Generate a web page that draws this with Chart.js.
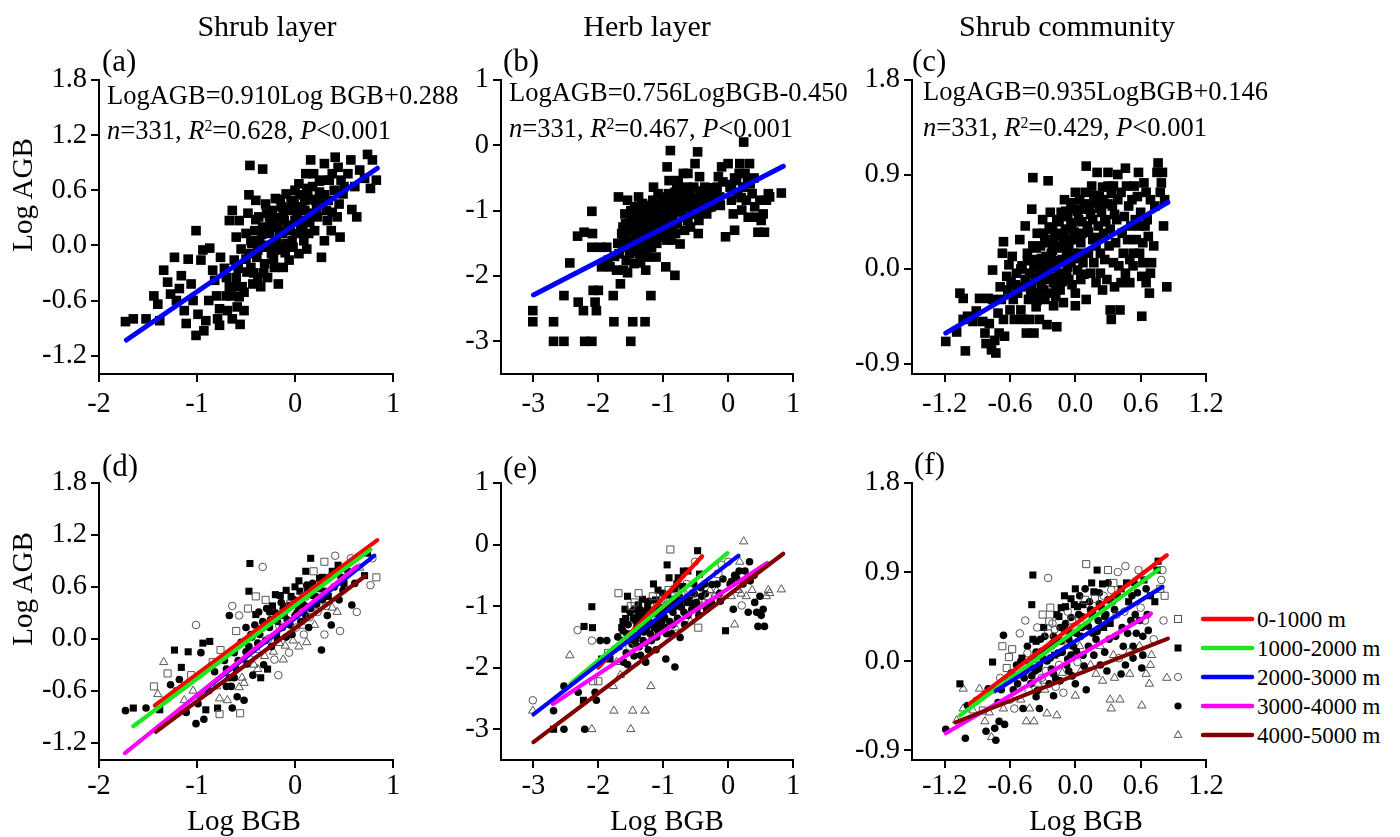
<!DOCTYPE html>
<html>
<head>
<meta charset="utf-8">
<script src="https://cdn.jsdelivr.net/npm/chart.js@4.4.1/dist/chart.umd.min.js"></script>
<style>
  html, body { margin: 0; padding: 0; background: #fff; }
  #fig { position: relative; width: 1400px; height: 837px; overflow: hidden;
         font-family: "Liberation Serif", "Times New Roman", serif; color: #000; }
  #fig canvas { position: absolute; }
  #fig svg { position: absolute; }
  .txt { position: absolute; white-space: nowrap; line-height: 1; }
  .txt sup { font-size: 0.6em; position: relative; top: -0.5em; vertical-align: baseline; }
</style>
</head>
<body>
<div id="fig">
  <canvas id="pa"></canvas>
  <canvas id="pb"></canvas>
  <canvas id="pc"></canvas>
  <canvas id="pd"></canvas>
  <canvas id="pe"></canvas>
  <canvas id="pf"></canvas>
</div>
<script>
// ---- data ----
const panelTitles = ['Shrub layer', 'Herb layer', 'Shrub community'];
const panelTags = ['(a)', '(b)', '(c)', '(d)', '(e)', '(f)'];
const fitEquations = ['LogAGB=0.910Log BGB+0.288', 'LogAGB=0.756LogBGB-0.450', 'LogAGB=0.935LogBGB+0.146'];
const fitN = [331, 331, 331];
const fitR2 = ['0.628', '0.467', '0.429'];
const fitP = ['0.001', '0.001', '0.001'];

const zoneLabels = ['0-1000 m', '1000-2000 m', '2000-3000 m', '3000-4000 m', '4000-5000 m'];

const shrubXTicks = [-2, -1, 0, 1];
const shrubYTicks = [-1.2, -0.6, 0, 0.6, 1.2, 1.8];
const herbXTicks = [-3, -2, -1, 0, 1];
const herbYTicks = [-3, -2, -1, 0, 1];
const commXTicks = [-1.2, -0.6, 0, 0.6, 1.2];
const commYTicks = [-0.9, 0, 0.9, 1.8];

// [Log BGB, Log AGB, altitude zone index]
const shrubPts = [
  [-1.73,-0.83,3],[-1.65,-0.80,1],[-1.52,-0.80,3],[-1.38,-0.82,1],[-1.44,-0.55,0],[-1.40,-0.64,4],[-1.34,-0.27,4],[-1.30,-0.40,0],
  [-1.23,-0.13,1],[-1.27,-0.53,3],[-1.21,-0.60,3],[-1.16,-0.33,1],[-1.18,-0.47,3],[-1.13,-0.71,4],[-1.11,-0.85,3],[-1.09,-0.15,1],
  [-1.06,-0.42,0],[-1.04,-0.60,4],[-1.01,0.16,2],[-1.01,-0.98,3],[-0.99,-0.75,3],[-0.96,-0.16,3],[-0.94,-0.05,1],[-0.93,-0.93,3],
  [-0.91,-0.82,1],[-0.88,-0.60,3],[-0.87,-0.03,1],[-0.84,-0.27,0],[-0.82,-0.38,3],[-0.79,-0.80,1],[-0.77,-0.87,0],[-0.77,-0.69,4],
  [-0.76,-0.13,0],[-0.72,-0.25,3],[-0.70,-0.35,3],[-0.69,-0.71,4],[-0.67,-0.45,3],[-0.67,0.27,3],[-0.65,-0.55,3],[-0.64,0.38,2],
  [-0.62,-0.16,3],[-0.60,0.09,0],[-0.60,-0.35,3],[-0.59,-0.67,3],[-0.57,0.27,2],[-0.57,-0.56,4],[-0.55,-0.04,3],[-0.54,-0.45,4],
  [-0.52,-0.71,3],[-0.52,-0.51,4],[-0.50,0.13,3],[-0.49,-0.29,3],[-0.48,0.35,0],[-0.47,-0.09,3],[-0.47,0.55,1],[-0.46,0.87,1],
  [-0.45,-0.24,2],[-0.44,0.02,3],[-0.43,-0.42,3],[-0.41,0.16,3],[-0.40,0.49,0],[-0.39,-0.13,4],[-0.38,-0.35,4],[-0.37,0.31,3],
  [-0.36,0.05,3],[-0.35,-0.45,1],[-0.33,0.83,2],[-0.33,0.20,3],[-0.31,-0.20,4],[-0.30,0.45,0],[-0.30,-0.02,3],[-0.28,-0.35,1],
  [-0.26,0.13,3],[-0.26,0.31,3],[-0.24,-0.09,3],[-0.23,0.38,1],[-0.21,-0.24,2],[-0.20,0.51,1],[-0.19,0.05,3],[-0.18,0.20,3],
  [-0.17,-0.42,2],[-0.16,-0.05,4],[-0.14,0.42,3],[-0.13,0.13,3],[-0.12,-0.24,4],[-0.11,0.27,1],[-0.09,0.56,1],[-0.09,0.02,3],
  [-0.07,0.38,3],[-0.06,-0.16,2],[-0.05,0.16,3],[-0.04,0.49,1],[-0.02,-0.02,4],[0.00,0.27,3],[0.00,0.60,1],[0.01,0.13,2],
  [0.03,0.38,3],[0.04,-0.09,4],[0.04,0.67,1],[0.06,0.20,3],[0.07,0.42,3],[0.09,0.05,2],[0.10,0.49,0],[0.11,0.27,3],
  [0.11,0.78,1],[0.12,-0.04,4],[0.13,0.56,3],[0.14,0.13,3],[0.16,0.35,3],[0.16,0.93,1],[0.18,0.64,3],[0.19,0.78,0],
  [0.20,0.16,4],[0.21,0.49,3],[0.23,0.31,2],[0.25,0.58,3],[0.27,-0.13,3],[0.28,0.71,1],[0.28,0.45,3],[0.30,0.05,2],
  [0.30,0.89,0],[0.33,0.27,3],[0.34,0.49,1],[0.35,0.71,3],[0.37,0.16,3],[0.38,0.36,4],[0.38,0.78,1],[0.40,0.60,3],
  [0.41,0.96,2],[0.43,0.31,4],[0.44,0.85,1],[0.45,0.45,3],[0.46,0.09,2],[0.47,0.71,3],[0.49,0.56,3],[0.50,0.64,1],
  [0.54,0.78,3],[0.57,0.93,2],[0.58,0.39,3],[0.61,0.64,3],[0.63,0.31,2],[0.66,0.82,4],[0.71,0.73,1],[0.74,0.99,1],
  [0.77,0.62,2],[0.79,0.93,2],[0.83,0.71,0],
  [-0.50,-0.15,3],[-0.45,0.05,3],[-0.42,-0.30,4],[-0.40,0.28,1],[-0.38,-0.05,3],[-0.34,0.12,3],[-0.32,-0.30,3],[-0.29,0.35,3],
  [-0.27,0.00,2],[-0.25,0.22,3],[-0.22,-0.15,4],[-0.20,0.30,3],[-0.18,0.00,3],[-0.16,0.15,2],[-0.15,0.50,1],[-0.12,0.35,3],
  [-0.10,-0.08,4],[-0.08,0.22,3],[-0.05,0.40,0],[-0.03,0.05,3],[-0.01,0.45,3],[0.02,0.30,3],[0.05,0.55,1],[0.08,0.15,4],
  [0.10,0.38,3],[0.12,0.62,3],[0.15,0.25,2],[0.18,0.50,3],[0.22,0.40,3],[0.25,0.70,1],[0.30,0.55,3],[0.32,0.38,2],
  [-0.62,-0.45,3],[-0.58,-0.25,3],[-0.70,-0.55,3],[-0.80,-0.55,4],[-0.64,-0.80,3],[-0.56,-0.86,0]
];

const herbPts = [
  [-3.01,-2.53,2],[-3.01,-2.70,4],[-2.69,-2.70,3],[-2.69,-3.00,1],[-2.53,-3.00,3],[-2.53,-2.30,3],[-2.44,-1.80,4],[-2.32,-1.39,2],
  [-2.31,-2.40,3],[-2.23,-2.53,1],[-2.22,-1.33,1],[-2.21,-3.00,3],[-2.10,-3.00,4],[-2.10,-1.01,1],[-2.10,-1.56,2],[-2.09,-1.35,1],
  [-2.08,-2.22,0],[-2.05,-2.40,3],[-2.03,-2.53,3],[-2.00,-2.22,0],[-1.97,-1.56,3],[-1.95,-1.86,1],[-1.87,-1.56,3],[-1.85,-1.76,0],
  [-1.82,-1.86,1],[-1.77,-2.30,4],[-1.76,-2.70,4],[-1.72,-1.91,4],[-1.69,-0.79,0],[-1.68,-1.66,3],[-1.66,-2.12,4],[-1.64,-1.35,1],
  [-1.63,-1.56,3],[-1.62,-1.25,1],[-1.61,-1.91,3],[-1.59,-1.05,1],[-1.57,-1.76,3],[-1.56,-1.45,3],[-1.55,-0.84,1],[-1.54,-1.30,3],
  [-1.52,-1.66,2],[-1.51,-1.10,3],[-1.50,-3.00,4],[-1.49,-1.45,3],[-1.47,-2.70,4],[-1.46,-1.20,3],[-1.45,-1.81,3],[-1.44,-0.94,0],
  [-1.43,-1.56,3],[-1.41,-1.35,3],[-1.39,-1.15,3],[-1.38,-0.79,0],[-1.37,-1.66,3],[-1.36,-1.05,3],[-1.35,-1.35,3],[-1.33,-1.25,1],
  [-1.32,-0.89,1],[-1.31,-1.56,3],[-1.30,-1.10,3],[-1.28,-2.70,4],[-1.27,-1.91,3],[-1.26,-1.35,3],[-1.24,-0.99,1],[-1.23,-1.71,3],
  [-1.22,-1.25,3],[-1.21,-1.15,3],[-1.19,-2.30,4],[-1.18,-1.56,3],[-1.16,-0.84,0],[-1.15,-0.64,1],[-1.14,-1.35,3],[-1.13,-1.05,3],
  [-1.11,-1.71,3],[-1.10,-0.94,2],[-1.09,-1.25,3],[-1.08,-0.74,1],[-1.06,-1.15,3],[-1.05,-1.35,3],[-1.03,-0.94,0],[-1.01,-0.79,1],
  [-1.00,-1.10,3],[-0.97,-1.35,3],[-0.96,-1.86,3],[-0.95,-0.99,3],[-0.94,-0.33,1],[-0.92,-0.74,0],[-0.91,-0.54,1],[-0.90,-1.25,3],
  [-0.89,-0.08,0],[-0.87,-1.45,3],[-0.86,-0.84,2],[-0.85,-1.10,3],[-0.84,-0.89,3],[-0.82,-1.99,3],[-0.81,-1.35,4],[-0.79,-0.64,1],
  [-0.77,-0.54,1],[-0.75,-0.94,3],[-0.74,-1.51,3],[-0.72,-0.79,0],[-0.69,-0.43,1],[-0.68,-1.10,3],[-0.67,-1.30,3],[-0.64,-0.64,2],
  [-0.63,-0.94,3],[-0.62,-0.43,1],[-0.59,-0.84,3],[-0.58,-1.25,4],[-0.56,-1.05,3],[-0.55,-0.79,2],[-0.53,-0.64,3],[-0.51,-0.28,2],
  [-0.49,-0.94,3],[-0.47,-0.10,1],[-0.46,-1.35,0],[-0.45,-1.15,3],[-0.44,-0.48,1],[-0.41,-0.84,3],[-0.38,-0.94,4],[-0.36,-0.64,3],
  [-0.33,-1.05,3],[-0.31,-0.84,2],[-0.28,-0.74,4],[-0.26,-0.94,3],[-0.21,-0.84,4],[-0.17,-0.64,3],[-0.15,-0.48,0],[-0.13,-0.79,3],
  [-0.10,-0.33,2],[-0.08,-0.56,3],[-0.04,-1.40,1],[0.00,-0.28,2],[0.03,-0.64,3],[0.05,-0.84,4],[0.08,-1.05,3],[0.10,-1.30,4],
  [0.13,-0.54,3],[0.15,-0.74,4],[0.17,-0.43,3],[0.18,-0.28,4],[0.21,-0.99,2],[0.23,-0.64,3],[0.24,0.05,4],[0.26,-0.43,3],
  [0.28,-0.84,4],[0.31,-1.10,3],[0.33,-0.28,3],[0.34,-0.59,3],[0.37,-0.74,4],[0.41,-0.94,3],[0.44,-1.10,3],[0.46,-1.33,3],
  [0.49,-0.84,3],[0.51,-1.15,3],[0.54,-1.05,3],[0.56,-1.33,3],[0.59,-0.84,4],[0.62,-0.74,4],[0.64,-0.79,4],[0.82,-0.73,4],
  [-1.70,-1.50,3],[-1.75,-1.70,3],[-1.62,-1.40,3],[-1.58,-1.20,1],[-1.55,-1.95,3],[-1.50,-1.00,0],[-1.48,-1.62,3],[-1.45,-1.05,3],
  [-1.42,-1.25,3],[-1.40,-1.48,3],[-1.38,-0.98,1],[-1.35,-1.80,3],[-1.34,-1.18,3],[-1.30,-1.42,3],[-1.28,-1.60,3],[-1.25,-1.08,1],
  [-1.22,-0.92,3],[-1.20,-1.45,3],[-1.18,-1.30,3],[-1.15,-1.12,3],[-1.12,-0.90,1],[-1.10,-1.50,3],[-1.08,-1.40,3],[-1.05,-1.02,3],
  [-1.02,-1.25,3],[-1.00,-0.88,0],[-0.98,-1.18,3],[-0.95,-1.45,3],[-0.93,-0.82,1],[-0.90,-1.05,3],[-0.88,-0.95,3],[-0.85,-1.30,3],
  [-0.82,-0.72,1],[-0.80,-1.00,3],[-0.78,-1.20,3],[-0.75,-0.85,3],[-0.72,-1.02,3],[-0.70,-0.68,1],[-0.66,-0.90,3],[-0.62,-1.15,3],
  [-0.60,-0.72,2],[-0.57,-0.95,3],[-0.52,-0.80,3],[-0.48,-1.05,3],[-0.42,-0.70,3],[-0.40,-1.00,4],[-0.35,-0.80,3],[-0.30,-0.95,3],
  [-0.25,-0.65,3],[-0.18,-0.75,4],[-0.12,-0.92,3],[0.05,-0.60,3],[0.10,-0.50,3],[0.20,-0.80,4],[0.30,-0.55,3],[0.40,-0.50,3]
];

const commPts = [
  [-1.19,-0.69,3],[-1.09,-0.60,4],[-1.06,-0.23,1],[-1.03,-0.28,4],[-1.01,-0.78,3],[-1.03,-0.48,4],[-0.99,-0.45,3],[-0.94,-0.50,4],
  [-0.91,-0.40,3],[-0.88,-0.28,4],[-0.85,-0.50,0],[-0.83,-0.61,4],[-0.82,-0.71,3],[-0.80,-0.28,3],[-0.79,-0.52,4],[-0.77,-0.77,4],
  [-0.76,-0.01,1],[-0.76,-0.29,1],[-0.74,-0.68,3],[-0.73,-0.80,3],[-0.71,-0.42,3],[-0.70,-0.61,3],[-0.69,-0.17,2],[-0.68,-0.29,3],
  [-0.67,0.15,0],[-0.66,0.26,3],[-0.66,-0.48,4],[-0.65,-0.64,3],[-0.63,-0.07,0],[-0.62,-0.20,3],[-0.61,0.04,0],[-0.60,-0.39,2],
  [-0.59,-0.12,3],[-0.57,-0.29,3],[-0.56,-0.48,2],[-0.54,-0.04,3],[-0.53,-0.23,3],[-0.51,0.28,2],[-0.50,-0.39,4],[-0.49,0.03,1],
  [-0.48,-0.48,3],[-0.47,-0.17,3],[-0.46,0.41,2],[-0.45,-0.61,4],[-0.44,0.15,3],[-0.43,-0.29,2],[-0.42,-0.04,3],[-0.42,-0.48,4],
  [-0.41,-0.23,3],[-0.40,0.57,1],[-0.39,0.22,1],[-0.39,0.87,1],[-0.38,-0.61,4],[-0.37,-0.10,3],[-0.36,-0.36,3],[-0.36,0.09,3],
  [-0.35,0.34,2],[-0.34,-0.23,4],[-0.33,-0.04,3],[-0.33,-0.48,3],[-0.32,0.22,3],[-0.31,-0.17,2],[-0.30,0.03,3],[-0.30,0.47,0],
  [-0.29,0.34,1],[-0.28,-0.29,4],[-0.27,0.12,3],[-0.27,-0.10,2],[-0.26,-0.53,4],[-0.25,0.84,2],[-0.25,0.28,0],[-0.24,-0.23,3],
  [-0.23,0.54,0],[-0.23,0.03,3],[-0.22,0.15,3],[-0.21,0.38,2],[-0.20,-0.13,3],[-0.20,0.25,3],[-0.19,0.06,1],[-0.18,-0.26,2],
  [-0.17,0.47,1],[-0.17,-0.55,4],[-0.16,0.22,3],[-0.15,-0.04,2],[-0.14,0.34,3],[-0.14,-0.20,3],[-0.13,0.54,1],[-0.12,0.09,3],
  [-0.11,0.25,2],[-0.11,-0.32,2],[-0.10,0.66,1],[-0.09,0.38,3],[-0.08,-0.04,3],[-0.08,0.15,4],[-0.07,0.50,2],[-0.06,-0.10,3],
  [-0.05,0.28,3],[-0.04,0.63,1],[-0.04,0.06,3],[-0.03,0.41,0],[-0.02,0.15,3],[-0.01,0.57,1],[0.00,-0.23,3],[0.00,0.73,1],
  [0.01,0.28,3],[0.02,-0.01,2],[0.03,0.47,3],[0.04,0.15,4],[0.04,0.66,3],[0.05,-0.10,4],[0.06,0.34,3],[0.07,0.57,1],
  [0.07,0.06,3],[0.09,0.73,3],[0.10,0.98,0],[0.10,-0.29,3],[0.11,0.41,2],[0.12,0.15,3],[0.13,0.60,3],[0.14,-0.04,4],
  [0.15,0.79,1],[0.16,0.28,3],[0.16,0.47,1],[0.17,0.06,3],[0.18,0.63,0],[0.19,-0.13,4],[0.19,0.22,3],[0.20,0.92,1],
  [0.21,0.41,3],[0.22,0.69,3],[0.23,-0.04,3],[0.23,0.15,4],[0.24,0.54,3],[0.25,-0.20,4],[0.26,0.34,1],[0.26,0.66,2],
  [0.27,0.09,3],[0.28,0.47,3],[0.29,-0.10,3],[0.30,0.79,3],[0.30,0.92,0],[0.31,0.22,3],[0.32,-0.39,4],[0.32,0.38,1],
  [0.33,-0.48,4],[0.34,0.60,3],[0.35,0.06,4],[0.35,0.79,0],[0.36,-0.17,4],[0.37,0.25,3],[0.38,0.47,2],[0.39,0.90,2],
  [0.39,0.66,3],[0.40,0.03,2],[0.41,-0.39,4],[0.42,-0.13,3],[0.42,0.73,1],[0.43,0.34,3],[0.44,0.15,3],[0.45,0.50,2],
  [0.46,0.96,2],[0.46,-0.04,3],[0.47,0.79,1],[0.48,0.28,3],[0.49,0.60,1],[0.50,0.09,2],[0.50,-0.13,4],[0.51,0.41,3],
  [0.52,0.66,3],[0.53,0.15,3],[0.53,0.03,3],[0.54,0.79,3],[0.55,0.47,3],[0.56,0.28,3],[0.57,0.69,3],[0.58,0.92,2],
  [0.59,0.41,3],[0.59,0.15,4],[0.60,0.54,2],[0.61,-0.45,4],[0.61,-0.07,3],[0.62,0.25,3],[0.62,0.06,3],[0.63,0.82,1],
  [0.64,0.41,2],[0.65,0.73,3],[0.65,-0.13,4],[0.66,0.47,3],[0.67,0.31,3],[0.68,-0.23,4],[0.69,-0.04,4],[0.69,0.66,1],
  [0.70,0.06,4],[0.72,0.22,2],[0.73,0.60,1],[0.75,0.92,1],[0.76,1.01,1],[0.78,0.73,0],[0.79,0.82,2],[0.80,0.92,2],
  [0.81,0.41,2],[0.82,0.66,0],[0.84,-0.17,4],
  [-0.50,0.00,3],[-0.46,-0.10,3],[-0.44,0.08,2],[-0.40,-0.15,3],[-0.38,0.02,3],[-0.36,0.20,1],[-0.34,-0.08,3],[-0.31,0.10,3],
  [-0.29,-0.20,4],[-0.28,0.25,3],[-0.26,0.00,3],[-0.24,0.40,0],[-0.22,-0.08,3],[-0.21,0.18,3],[-0.19,0.32,2],[-0.18,-0.18,3],
  [-0.16,0.08,3],[-0.15,0.45,1],[-0.13,0.20,3],[-0.12,-0.12,4],[-0.10,0.32,3],[-0.09,0.55,1],[-0.07,0.02,3],[-0.06,0.22,3],
  [-0.04,0.44,3],[-0.03,-0.15,3],[-0.01,0.35,2],[0.01,0.10,3],[0.02,0.55,1],[0.05,0.25,3],[0.06,0.45,3],[0.08,-0.05,3],
  [0.09,0.62,0],[0.12,0.35,3],[0.14,0.52,3],[0.17,0.70,1],[0.20,0.30,3],[0.22,0.58,3],[0.25,0.78,1],[0.27,0.45,3],
  [0.30,0.62,3],[0.33,0.72,2],[0.36,0.52,3],[-0.55,-0.15,3],[-0.58,0.12,0],[-0.35,-0.30,3],[-0.20,-0.35,3],[0.00,-0.35,4]
];

// fitted lines as drawn: [start, end] in (Log BGB, Log AGB)
const shrubFit = [[-1.72, -1.03], [0.84, 0.84]];
const herbFit = [[-3.0, -2.29], [0.85, -0.32]];
const commFit = [[-1.19, -0.61], [0.85, 0.635]];

const shrubZoneFits = [
  [[-1.43, -0.77], [0.84, 1.14]],
  [[-1.65, -1.01], [0.77, 1.03]],
  [[-1.00, -0.66], [0.81, 0.96]],
  [[-1.735, -1.32], [0.636, 0.84]],
  [[-1.42, -1.075], [0.71, 0.72]]
];
const herbZoneFits = [
  [[-2.0, -2.0], [-0.4, -0.19]],
  [[-2.43, -2.26], [-0.01, -0.14]],
  [[-3.0, -2.76], [0.16, -0.18]],
  [[-2.7, -2.59], [0.6, -0.30]],
  [[-3.0, -3.21], [0.85, -0.15]]
];
const commZoneFits = [
  [[-0.97, -0.43], [0.84, 1.07]],
  [[-1.06, -0.55], [0.765, 0.926]],
  [[-0.73, -0.30], [0.80, 0.75]],
  [[-1.19, -0.73], [0.695, 0.48]],
  [[-1.10, -0.62], [0.85, 0.227]]
];

// ---- styles ----
const zoneColors = ['#ff0000', '#1fe61f', '#0000ff', '#ff00ff', '#800000'];
const zoneMarks = [
  { pointStyle: 'rect', pointRadius: 5, pointBackgroundColor: 'rgba(0,0,0,0)', pointBorderColor: '#555', pointBorderWidth: 1 },
  { pointStyle: 'rect', pointRadius: 5, pointBackgroundColor: '#000', pointBorderColor: '#000', pointBorderWidth: 0 },
  { pointStyle: 'circle', pointRadius: 3.8, pointBackgroundColor: 'rgba(0,0,0,0)', pointBorderColor: '#555', pointBorderWidth: 1 },
  { pointStyle: 'circle', pointRadius: 3.8, pointBackgroundColor: '#000', pointBorderColor: '#000', pointBorderWidth: 0 },
  { pointStyle: 'triangle', pointRadius: 4.8, pointBackgroundColor: 'rgba(0,0,0,0)', pointBorderColor: '#555', pointBorderWidth: 1 }
];
const FONT = '"Liberation Serif", "Times New Roman", serif';
Chart.defaults.font.family = FONT;

const fig = document.getElementById('fig');

function addText(html, x, base, size, center) {
  const d = document.createElement('div');
  d.className = 'txt';
  d.innerHTML = html;
  d.style.fontSize = size + 'px';
  d.style.left = x + 'px';
  d.style.top = (base - 0.8375 * size) + 'px';
  if (center) d.style.transform = 'translateX(-50%)';
  fig.appendChild(d);
  return d;
}

function addYTitle(text, cx, cy, size) {
  const d = addText(text, cx, 0, size);
  d.style.top = cy + 'px';
  d.style.transform = 'translate(-50%, -50%) rotate(-90deg)';
}

function xy(p) { return { x: p[0], y: p[1] }; }

function fitLine(seg, color, width, order) {
  return { data: seg.map(xy), showLine: true, borderColor: color, borderWidth: width,
           borderCapStyle: 'round', pointRadius: 0, pointHoverRadius: 0, order: order };
}

function axis(range, ticks, digits, pad, fit) {
  return {
    type: 'linear', min: range[0], max: range[1],
    afterBuildTicks: s => { s.ticks = ticks.map(v => ({ value: v })); },
    afterFit: fit,
    grid: { drawOnChartArea: false, drawTicks: true, tickLength: 8, color: '#000', lineWidth: 2 },
    border: { display: true, color: '#000', width: 2 },
    ticks: { color: '#000', padding: pad, autoSkip: false, maxRotation: 0,
             font: { family: FONT, size: 28.5 }, callback: v => Number(v).toFixed(digits) }
  };
}

function makePanel(id, box, area, xr, yr, xt, yt, dx, dy, xPad, datasets) {
  const cv = document.getElementById(id);
  cv.width = box.w; cv.height = box.h;
  cv.style.left = box.x + 'px'; cv.style.top = box.y + 'px';
  cv.style.width = box.w + 'px'; cv.style.height = box.h + 'px';
  new Chart(cv, {
    type: 'scatter',
    data: { datasets: datasets },
    options: {
      responsive: false, animation: false, devicePixelRatio: 1, events: [],
      layout: { padding: { left: 0, top: area.t - box.y, right: box.x + box.w - area.r, bottom: 0 } },
      plugins: { legend: { display: false }, tooltip: { enabled: false } },
      scales: {
        x: axis(xr, xt, dx, xPad, s => { s.height = box.y + box.h - area.b; }),
        y: axis(yr, yt, dy, 4, s => { s.width = area.l - box.x; })
      }
    }
  });
}

function topSets(pts, fit) {
  return [
    fitLine(fit, '#0000ff', 5, 0),
    { data: pts.map(xy), pointStyle: 'rect', pointRadius: 6.8, pointHoverRadius: 6.8,
      pointBackgroundColor: '#000', pointBorderWidth: 0, order: 1 }
  ];
}

function zoneSets(pts, fits) {
  const lines = fits.map((seg, g) => fitLine(seg, zoneColors[g], 4.2, 4 - g));
  const marks = zoneLabels.map((_, g) => Object.assign({
    data: pts.filter(p => p[2] === g).map(xy), order: 10 + g
  }, zoneMarks[g]));
  return lines.concat(marks);
}

// ---- panels ----
const shrubX = [-2, 1], shrubY = [-1.4, 1.8];
const herbX = [-3.5, 1], herbY = [-3.5, 1];
const commX = [-1.5, 1.2], commY = [-1.0, 1.8];

makePanel('pa', { x: 0, y: 40, w: 460, h: 390 }, { l: 99, t: 80, r: 393, b: 374 },
  shrubX, shrubY, shrubXTicks, shrubYTicks, 0, 1, 5, topSets(shrubPts, shrubFit));
makePanel('pb', { x: 440, y: 40, w: 420, h: 390 }, { l: 501, t: 80, r: 793, b: 374 },
  herbX, herbY, herbXTicks, herbYTicks, 0, 0, 5, topSets(herbPts, herbFit));
makePanel('pc', { x: 850, y: 40, w: 400, h: 390 }, { l: 912, t: 80, r: 1206, b: 374 },
  commX, commY, commXTicks, commYTicks, 1, 1, 5, topSets(commPts, commFit));
makePanel('pd', { x: 0, y: 440, w: 460, h: 380 }, { l: 99, t: 483, r: 393, b: 760 },
  shrubX, shrubY, shrubXTicks, shrubYTicks, 0, 1, 1, zoneSets(shrubPts, shrubZoneFits));
makePanel('pe', { x: 440, y: 440, w: 420, h: 380 }, { l: 501, t: 483, r: 793, b: 760 },
  herbX, herbY, herbXTicks, herbYTicks, 0, 0, 1, zoneSets(herbPts, herbZoneFits));
makePanel('pf', { x: 850, y: 440, w: 400, h: 380 }, { l: 912, t: 483, r: 1206, b: 760 },
  commX, commY, commXTicks, commYTicks, 1, 1, 1, zoneSets(commPts, commZoneFits));

// ---- text ----
const titleX = [267, 647, 1067];
panelTitles.forEach((t, i) => addText(t, titleX[i], 36, 30, true));

const tagPos = [[102, 71], [503, 71], [912, 71], [102, 476], [503, 478], [914, 474]];
panelTags.forEach((t, i) => addText(t, tagPos[i][0], tagPos[i][1], 31, false));

const eqPos = [[107, 104, 139], [509, 101, 137], [923, 100, 136]];
fitEquations.forEach((eq, i) => {
  addText(eq, eqPos[i][0], eqPos[i][1], 26.5, false);
  addText('<i>n</i>=' + fitN[i] + ', <i>R</i><sup>2</sup>=' + fitR2[i] + ', <i>P</i>&lt;' + fitP[i],
          eqPos[i][0], eqPos[i][2], 26.5, false);
});

addYTitle('Log AGB', 22, 195, 29);
addYTitle('Log AGB', 22, 589, 29);
[244, 667, 1086].forEach(x => addText('Log BGB', x, 830, 29, true));

// ---- legend (panel f) ----
const legRows = [619, 648, 677, 706, 735];
const ns = 'http://www.w3.org/2000/svg';
const svg = document.createElementNS(ns, 'svg');
svg.setAttribute('width', 100); svg.setAttribute('height', 160);
svg.style.left = '1160px'; svg.style.top = '600px';
function el(tag, attrs) {
  const e = document.createElementNS(ns, tag);
  Object.keys(attrs).forEach(k => e.setAttribute(k, attrs[k]));
  svg.appendChild(e);
}
zoneLabels.forEach((lab, g) => {
  const cy = legRows[g] - 600, cx = 1178 - 1160;
  const m = zoneMarks[g];
  const fill = m.pointBorderWidth ? 'none' : '#000';
  const stroke = m.pointBorderWidth ? '#555' : 'none';
  if (m.pointStyle === 'rect') el('rect', { x: cx - 3.5, y: cy - 3.5, width: 7, height: 7, fill: fill, stroke: stroke });
  else if (m.pointStyle === 'circle') el('circle', { cx: cx, cy: cy, r: 3.6, fill: fill, stroke: stroke });
  else el('polygon', { points: `${cx},${cy - 4.3} ${cx + 3.8},${cy + 2.4} ${cx - 3.8},${cy + 2.4}`, fill: fill, stroke: stroke });
  el('line', { x1: 1203 - 1160, y1: cy, x2: 1252 - 1160, y2: cy, stroke: zoneColors[g], 'stroke-width': 4.5, 'stroke-linecap': 'round' });
  addText(lab, 1257, legRows[g] + 7.8, 23, false);
});
fig.appendChild(svg);
</script>
</body>
</html>
